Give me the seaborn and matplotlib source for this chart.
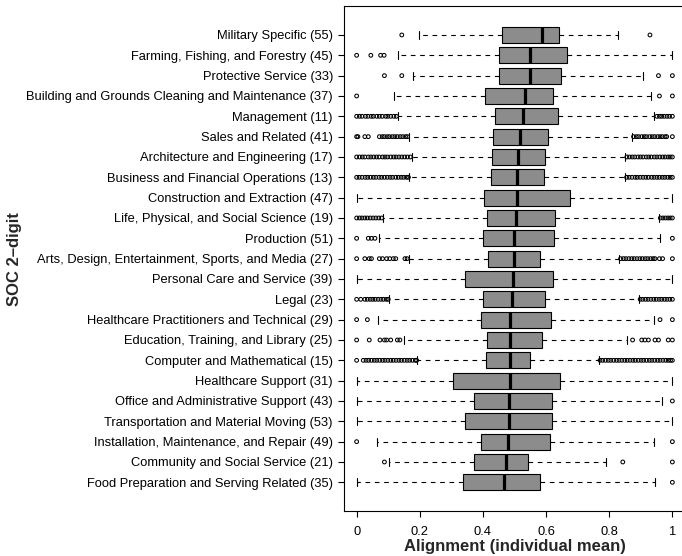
import matplotlib
matplotlib.use("Agg")
import matplotlib.pyplot as plt
import seaborn as sns
import pandas as pd

categories = [
    "Military Specific (55)",
    "Farming, Fishing, and Forestry (45)",
    "Protective Service (33)",
    "Building and Grounds Cleaning and Maintenance (37)",
    "Management (11)",
    "Sales and Related (41)",
    "Architecture and Engineering (17)",
    "Business and Financial Operations (13)",
    "Construction and Extraction (47)",
    "Life, Physical, and Social Science (19)",
    "Production (51)",
    "Arts, Design, Entertainment, Sports, and Media (27)",
    "Personal Care and Service (39)",
    "Legal (23)",
    "Healthcare Practitioners and Technical (29)",
    "Education, Training, and Library (25)",
    "Computer and Mathematical (15)",
    "Healthcare Support (31)",
    "Office and Administrative Support (43)",
    "Transportation and Material Moving (53)",
    "Installation, Maintenance, and Repair (49)",
    "Community and Social Service (21)",
    "Food Preparation and Serving Related (35)",
]

whisker_low = [0.197, 0.132, 0.179, 0.117, 0.132, 0.166, 0.174, 0.167, 0.0, 0.084, 0.071, 0.167,
               0.0, 0.102, 0.069, 0.151, 0.192, 0.0, 0.0, 0.0, 0.063, 0.103, 0.0]
q1 = [0.459, 0.450, 0.452, 0.406, 0.438, 0.432, 0.429, 0.425, 0.403, 0.413, 0.401, 0.416,
      0.344, 0.400, 0.393, 0.413, 0.409, 0.304, 0.372, 0.342, 0.394, 0.372, 0.338]
median = [0.586, 0.550, 0.548, 0.534, 0.528, 0.517, 0.510, 0.508, 0.508, 0.504, 0.499, 0.497,
          0.494, 0.493, 0.487, 0.487, 0.487, 0.485, 0.482, 0.482, 0.480, 0.474, 0.467]
q3 = [0.640, 0.666, 0.646, 0.621, 0.638, 0.605, 0.596, 0.594, 0.676, 0.628, 0.624, 0.580,
      0.622, 0.596, 0.616, 0.586, 0.549, 0.643, 0.619, 0.619, 0.613, 0.544, 0.580]
whisker_high = [0.829, 1.0, 0.908, 0.931, 0.943, 0.872, 0.851, 0.851, 1.0, 0.957, 0.961, 0.832,
                1.0, 0.894, 0.943, 0.855, 0.768, 1.0, 0.968, 1.0, 0.943, 0.789, 0.945]

outliers = [
    [0.143, 0.929],
    [0.0, 0.045, 0.076, 0.087],
    [0.088, 0.143, 0.956, 1.0],
    [0.0, 0.959, 1.0],
    [0.0, 0.009, 0.017, 0.028, 0.036, 0.046, 0.053, 0.064, 0.072, 0.081, 0.092, 0.099, 0.108,
     0.118, 0.126, 0.951, 0.959, 0.966, 0.974, 0.983, 0.991, 1.0],
    [0.0, 0.004, 0.026, 0.037, 0.072, 0.081, 0.088, 0.097, 0.104, 0.113, 0.121, 0.129, 0.138,
     0.146, 0.155, 0.161, 0.877, 0.886, 0.893, 0.903, 0.911, 0.918, 0.928, 0.936, 0.944, 0.953,
     0.961, 0.968, 0.977, 0.982, 1.0],
    [0.0, 0.009, 0.018, 0.026, 0.037, 0.045, 0.054, 0.063, 0.071, 0.082, 0.09, 0.098, 0.108,
     0.117, 0.125, 0.134, 0.143, 0.152, 0.161, 0.17, 0.856, 0.864, 0.873, 0.881, 0.891, 0.899,
     0.907, 0.917, 0.925, 0.933, 0.943, 0.951, 0.96, 0.969, 0.977, 0.986, 0.993, 1.0],
    [0.0, 0.008, 0.017, 0.027, 0.035, 0.044, 0.053, 0.061, 0.071, 0.079, 0.088, 0.097, 0.106,
     0.114, 0.124, 0.132, 0.141, 0.149, 0.158, 0.164, 0.855, 0.863, 0.872, 0.882, 0.889, 0.898,
     0.907, 0.916, 0.924, 0.934, 0.942, 0.951, 0.959, 0.968, 0.976, 0.985, 0.993, 1.0],
    [],
    [0.0, 0.009, 0.017, 0.026, 0.034, 0.043, 0.052, 0.061, 0.07, 0.079, 0.962, 0.97, 0.978,
     0.986, 0.993, 1.0],
    [0.0, 0.037, 0.047, 0.058, 1.0],
    [0.0, 0.026, 0.04, 0.047, 0.072, 0.082, 0.095, 0.105, 0.116, 0.124, 0.153, 0.16, 0.836,
     0.845, 0.853, 0.862, 0.871, 0.879, 0.888, 0.897, 0.905, 0.914, 0.922, 0.931, 0.939, 0.945,
     0.959, 0.969, 1.0],
    [],
    [0.0, 0.013, 0.026, 0.034, 0.043, 0.051, 0.059, 0.068, 0.077, 0.085, 0.094, 0.1, 0.898,
     0.906, 0.915, 0.923, 0.932, 0.941, 0.949, 0.958, 0.966, 0.975, 0.983, 0.992, 1.0],
    [0.0, 0.034, 0.961, 1.0],
    [0.0, 0.04, 0.074, 0.088, 0.095, 0.108, 0.129, 0.137, 0.874, 0.903, 0.913, 0.924, 0.945,
     0.956, 0.987, 1.0],
    [0.0, 0.021, 0.03, 0.038, 0.047, 0.056, 0.064, 0.073, 0.082, 0.09, 0.099, 0.108, 0.116,
     0.125, 0.134, 0.142, 0.151, 0.16, 0.168, 0.177, 0.186, 0.19, 0.771, 0.779, 0.788, 0.797,
     0.805, 0.814, 0.823, 0.831, 0.84, 0.849, 0.857, 0.866, 0.875, 0.883, 0.892, 0.901, 0.909,
     0.918, 0.927, 0.935, 0.944, 0.953, 0.961, 0.97, 0.979, 0.987, 0.994, 1.0],
    [],
    [1.0],
    [],
    [0.0, 1.0],
    [0.088, 0.843, 1.0],
    [1.0],
]

box_fill = "#8c8c8c"

sns.set_theme(style="ticks")
plt.rcParams["font.family"] = ["Liberation Sans", "DejaVu Sans"]

# Five-number summaries per group; whis=(0, 100) makes the whiskers span min..max
summary = pd.DataFrame(
    [{"group": c, "value": v}
     for c, lo, a, m, b, hi in zip(categories, whisker_low, q1, median, q3, whisker_high)
     for v in (lo, a, m, b, hi)]
)
extremes = pd.DataFrame(
    [{"group": c, "value": v} for c, vals in zip(categories, outliers) for v in vals]
)

W, H = 682, 556
fig = plt.figure(figsize=(W / 100, H / 100), dpi=100)
ax = fig.add_axes([344 / W, (H - 511.2) / H, 341 / W, 505.1 / H])

sns.boxplot(
    data=summary, x="value", y="group", order=categories, orient="h",
    whis=(0, 100), width=0.8, color=box_fill, saturation=1, linecolor="black",
    linewidth=0.8, showfliers=False, ax=ax,
    medianprops=dict(color="black", linewidth=2.3, solid_capstyle="butt"),
    whiskerprops=dict(linestyle=(0, (4.2, 4.2)), linewidth=0.8),
    capprops=dict(linewidth=0.8),
)

n_before = len(ax.collections)
sns.stripplot(
    data=extremes, x="value", y="group", order=categories, orient="h",
    jitter=False, color="black", size=2.7, ax=ax,
)
for coll in ax.collections[n_before:]:
    coll.set_facecolor("none")
    coll.set_edgecolor("black")
    coll.set_linewidth(0.75)

n = len(categories)
ax.set_xlim(-0.04, 1.04)
ax.set_ylim(n - 0.5 + 0.92, -0.5 - 0.92)
ax.set_xticks([0, 0.2, 0.4, 0.6, 0.8, 1.0])
ax.set_xticklabels(["0", "0.2", "0.4", "0.6", "0.8", "1"])

for side in ("top", "right", "left", "bottom"):
    ax.spines[side].set_visible(True)
    ax.spines[side].set_color("black")
    ax.spines[side].set_linewidth(0.8)

ax.tick_params(axis="both", colors="black", labelsize=9.3, width=0.8, length=4.5)
ax.tick_params(axis="y", pad=3.5)
ax.tick_params(axis="x", pad=6)

ax.set_xlabel("Alignment (individual mean)", fontsize=12, fontweight="bold", va="center")
ax.set_ylabel("SOC 2–digit", fontsize=12, fontweight="bold", va="center")
ax.xaxis.set_label_coords(0.5, (511.2 - 547) / 505.1)
ax.yaxis.set_label_coords((15 - 344) / 341, 0.5)

fig.savefig("out.png", dpi=100)
